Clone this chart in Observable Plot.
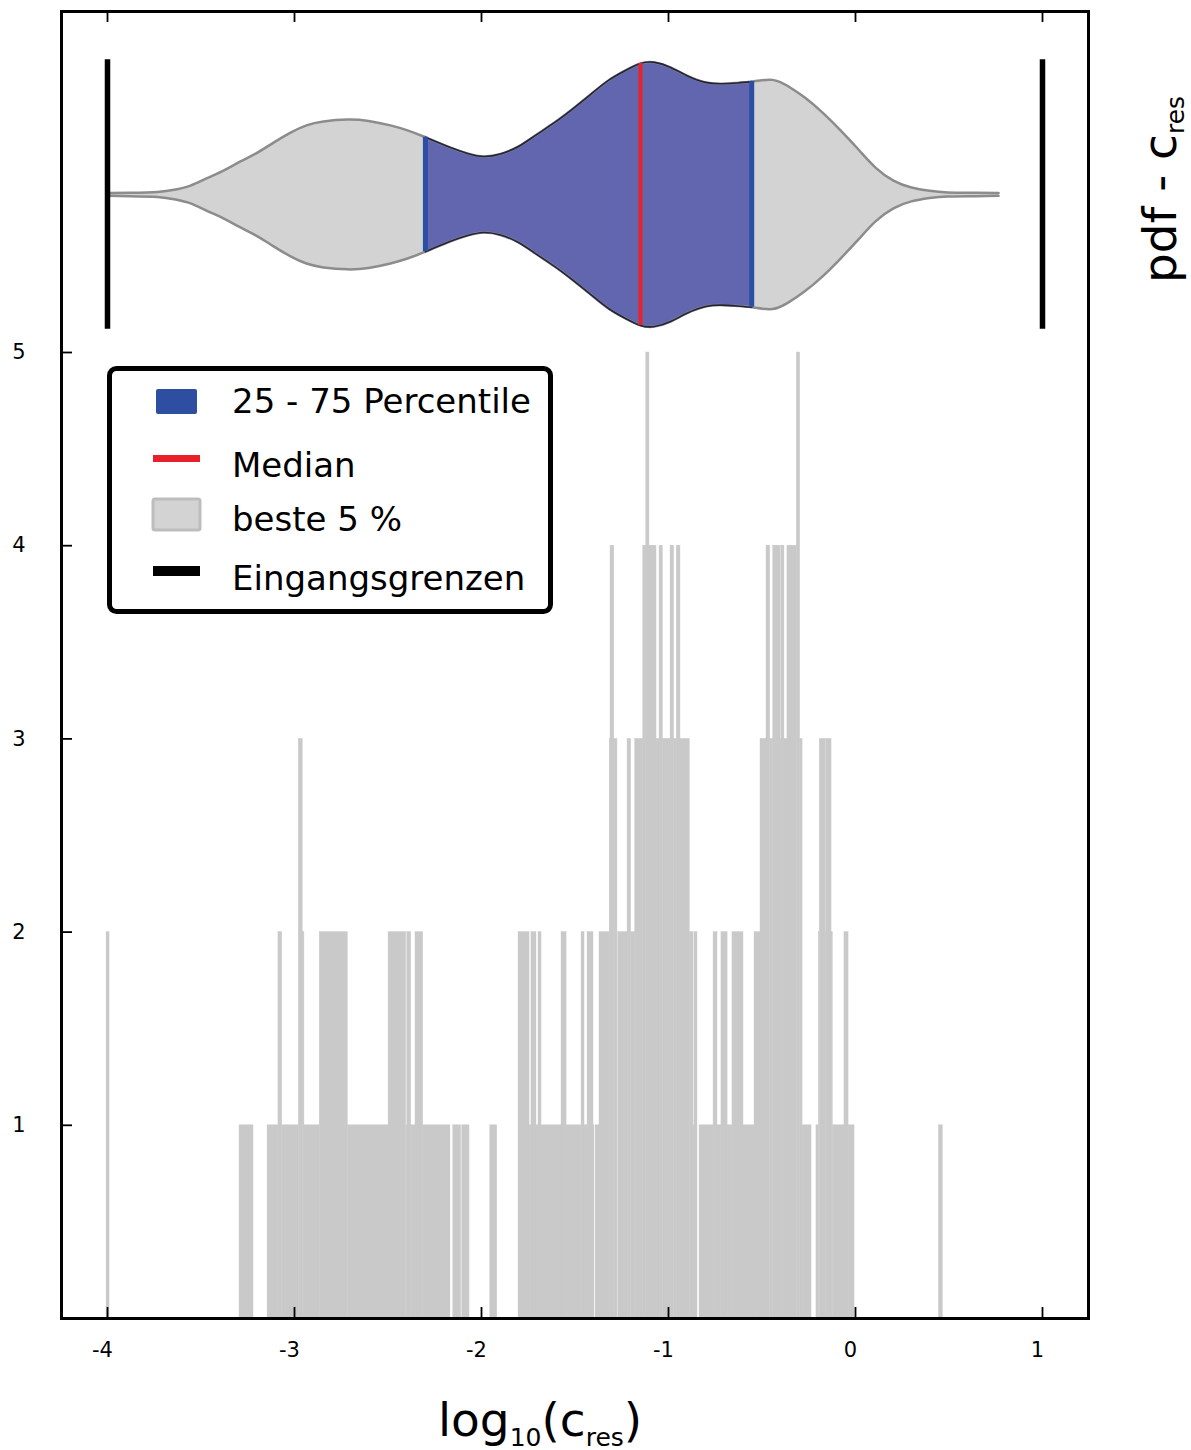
<!DOCTYPE html>
<html>
<head>
<meta charset="utf-8">
<script src="https://cdn.jsdelivr.net/npm/d3@7"></script>
<script src="https://cdn.jsdelivr.net/npm/@observablehq/plot@0.6"></script>
<style>
  html, body { margin: 0; padding: 0; background: #fff; }
  #chart { width: 1191px; height: 1450px; }
</style>
</head>
<body>
<div id="chart"></div>
<script>
// Histogram of log10(c_res): bin edges and counts
const binLo = [-4.005, -3.294, -3.144, -3.086, -3.066, -2.977, -2.956, -2.947, -2.865, -2.715,
  -2.497, -2.403, -2.397, -2.376, -2.353, -2.312, -2.151, -2.103, -1.953, -1.802,
  -1.743, -1.733, -1.706, -1.695, -1.679, -1.572, -1.545, -1.465, -1.449, -1.433,
  -1.401, -1.390, -1.369, -1.314, -1.310, -1.290, -1.269, -1.219, -1.200, -1.178,
  -1.135, -1.119, -1.102, -1.064, -1.048, -1.030, -0.989, -0.970, -0.956, -0.936,
  -0.886, -0.866, -0.861, -0.834, -0.759, -0.738, -0.717, -0.684, -0.658, -0.599,
  -0.540, -0.508, -0.476, -0.456, -0.440, -0.401, -0.397, -0.380, -0.364, -0.314,
  -0.296, -0.283, -0.209, -0.196, -0.191, -0.160, -0.157, -0.128, -0.121, -0.059,
  -0.037, 0.446];
const binHi = [-3.989, -3.219, -3.086, -3.066, -2.977, -2.956, -2.947, -2.865, -2.715, -2.497,
  -2.403, -2.397, -2.376, -2.353, -2.312, -2.166, -2.109, -2.064, -1.916, -1.743,
  -1.733, -1.706, -1.695, -1.679, -1.572, -1.545, -1.465, -1.449, -1.433, -1.401,
  -1.396, -1.369, -1.314, -1.310, -1.290, -1.273, -1.219, -1.200, -1.178, -1.135,
  -1.119, -1.102, -1.064, -1.048, -1.030, -0.989, -0.970, -0.956, -0.936, -0.886,
  -0.866, -0.861, -0.845, -0.759, -0.738, -0.717, -0.684, -0.658, -0.599, -0.540,
  -0.508, -0.476, -0.456, -0.440, -0.401, -0.397, -0.380, -0.364, -0.314, -0.296,
  -0.283, -0.235, -0.196, -0.191, -0.160, -0.157, -0.128, -0.121, -0.059, -0.037,
  -0.005, 0.467];
const binCount = [2, 1, 1, 2, 1, 3, 2, 1, 2, 1,
  2, 1, 2, 1, 2, 1, 1, 1, 1, 2,
  1, 2, 1, 2, 1, 2, 1, 2, 1, 2,
  1, 1, 2, 3, 4, 3, 2, 3, 2, 3,
  4, 5, 4, 3, 4, 3, 4, 3, 4, 3,
  2, 1, 2, 1, 2, 1, 2, 1, 2, 1,
  2, 3, 4, 3, 4, 3, 4, 3, 4, 5,
  3, 1, 1, 2, 3, 2, 3, 2, 1, 2,
  1, 1];

// Kernel density estimate (pdf) of log10(c_res)
const kdeX = [-3.995, -3.877, -3.733, -3.636, -3.556, -3.471, -3.380, -3.289, -3.198, -3.112,
  -3.021, -2.936, -2.845, -2.717, -2.604, -2.487, -2.396, -2.310, -2.166, -2.075,
  -1.989, -1.898, -1.802, -1.711, -1.610, -1.513, -1.417, -1.321, -1.230, -1.150,
  -1.075, -0.989, -0.904, -0.802, -0.711, -0.631, -0.551, -0.444, -0.358, -0.273,
  -0.176, -0.080, 0.016, 0.107, 0.203, 0.299, 0.396, 0.492, 0.642, 0.765];
const kdePdf = [0.005, 0.006, 0.009, 0.018, 0.032, 0.058, 0.086, 0.119, 0.151, 0.187,
  0.223, 0.249, 0.263, 0.270, 0.265, 0.249, 0.231, 0.209, 0.169, 0.148,
  0.137, 0.146, 0.173, 0.213, 0.259, 0.308, 0.360, 0.411, 0.447, 0.472,
  0.476, 0.458, 0.429, 0.404, 0.399, 0.402, 0.407, 0.413, 0.389, 0.350,
  0.295, 0.231, 0.162, 0.097, 0.050, 0.025, 0.013, 0.007, 0.006, 0.005];

// Summary statistics and input limits
const q25 = -2.30;
const median = -1.15;
const q75 = -0.555;
const inputBounds = [-4, 1];

// Axis ticks
const xTicks = [-4, -3, -2, -1, 0, 1];
const yTicks = [1, 2, 3, 4, 5];

// Legend entries
const legendLabels = ["25 - 75 Percentile", "Median", "beste 5 %", "Eingangsgrenzen"];

// ---- layout ----
const W = 1191, H = 1450;
const mL = 61, mR = 103, mT = 11, mB = 132;
const innerW = W - mL - mR;
const innerH = H - mT - mB;
const pxPerCount = 193.2;
const yMax = innerH / pxPerCount;
const xDomain = [-4.246, 1.246];
const violinCenter = 5.818;   // vertical position of the violin, in count units
const violinScale = 1.436;    // count units per unit of pdf
const tickLen = 11;
const violinCurve = "natural";

const bins = binLo.map((lo, i) => ({x1: lo, x2: binHi[i], count: binCount[i]}));
const kde = kdeX.map((x, i) => ({x, pdf: kdePdf[i]}));

function pdfAt(x) {
  for (let i = 0; i < kde.length - 1; i++) {
    const a = kde[i], b = kde[i + 1];
    if (x >= a.x && x <= b.x) {
      const t = (x - a.x) / (b.x - a.x);
      return a.pdf + t * (b.pdf - a.pdf);
    }
  }
  return 0;
}

const iqr = [{x: q25, pdf: pdfAt(q25)},
  ...kde.filter(d => d.x > q25 && d.x < q75),
  {x: q75, pdf: pdfAt(q75)}];

const upper = d => violinCenter + d.pdf * violinScale;
const lower = d => violinCenter - d.pdf * violinScale;
const maxPdf = d3.max(kdePdf);
const boundHalf = maxPdf * violinScale * 1.02;

const chart = Plot.plot({
  width: W,
  height: H,
  marginLeft: mL,
  marginRight: mR,
  marginTop: mT,
  marginBottom: mB,
  x: {domain: xDomain},
  y: {domain: [0, yMax]},
  style: {fontFamily: '"DejaVu Sans", sans-serif', color: "black", background: "white", overflow: "visible"},
  marks: [
    // histogram
    Plot.rectY(bins, {x1: "x1", x2: "x2", y: "count", fill: "#c9c9c9", stroke: "#c9c9c9", strokeWidth: 0.4}),

    // violin (full range)
    Plot.areaY(kde, {x: "x", y1: lower, y2: upper, fill: "#d3d3d3", curve: violinCurve}),
    // interquartile section
    Plot.areaY(iqr, {x: "x", y1: lower, y2: upper, fill: "#6166ae", curve: violinCurve}),
    Plot.line(kde, {x: "x", y: upper, stroke: "#8c8c8c", strokeWidth: 2.5, curve: violinCurve}),
    Plot.line(kde, {x: "x", y: lower, stroke: "#8c8c8c", strokeWidth: 2.5, curve: violinCurve}),
    Plot.line(iqr, {x: "x", y: upper, stroke: "#23233a", strokeWidth: 1.6, curve: violinCurve}),
    Plot.line(iqr, {x: "x", y: lower, stroke: "#23233a", strokeWidth: 1.6, curve: violinCurve}),

    // quartiles and median
    Plot.ruleX([q25, q75], {x: d => d, y1: d => violinCenter - pdfAt(d) * violinScale, y2: d => violinCenter + pdfAt(d) * violinScale, stroke: "#2c4fa3", strokeWidth: 5}),
    Plot.ruleX([median], {x: d => d, y1: d => violinCenter - pdfAt(d) * violinScale, y2: d => violinCenter + pdfAt(d) * violinScale, stroke: "#e8222a", strokeWidth: 4}),

    // input limits
    Plot.ruleX(inputBounds, {x: d => d, y1: violinCenter - boundHalf, y2: violinCenter + boundHalf, stroke: "black", strokeWidth: 5.5}),

    // inward ticks
    Plot.tickX(xTicks, {x: d => d, insetTop: innerH - tickLen, stroke: "black", strokeWidth: 1.8}),
    Plot.tickX(xTicks, {x: d => d, insetBottom: innerH - tickLen, stroke: "black", strokeWidth: 1.8}),
    Plot.tickY(yTicks, {y: d => d, insetRight: innerW - tickLen, stroke: "black", strokeWidth: 1.8}),

    // tick labels
    Plot.axisX({ticks: xTicks, anchor: "bottom", tickSize: 0, tickPadding: 24, fontSize: 21, dx: -5, tickFormat: d => String(d), label: null}),
    Plot.axisY({ticks: yTicks, anchor: "left", tickSize: 0, tickPadding: 36, fontSize: 21, tickFormat: d => String(d), label: null}),

    Plot.frame({stroke: "black", strokeWidth: 3})
  ]
});

document.getElementById("chart").appendChild(chart);

const svg = d3.select(chart);
const font = '"DejaVu Sans", sans-serif';

// legend
const lg = svg.append("g").attr("font-family", font).attr("font-size", 34)
  .attr("fill", "black").attr("text-anchor", "start");
lg.append("rect").attr("x", 109.5).attr("y", 368.5).attr("width", 441).attr("height", 243)
  .attr("rx", 7).attr("fill", "white").attr("stroke", "black").attr("stroke-width", 5);
lg.append("rect").attr("x", 156).attr("y", 389).attr("width", 41).attr("height", 25).attr("rx", 2).attr("fill", "#2e4fa1");
lg.append("rect").attr("x", 153).attr("y", 455).attr("width", 47).attr("height", 7).attr("fill", "#e8202a");
lg.append("rect").attr("x", 153).attr("y", 499).attr("width", 47).attr("height", 31).attr("rx", 2)
  .attr("fill", "#d3d3d3").attr("stroke", "#bdbdbd").attr("stroke-width", 3);
lg.append("rect").attr("x", 153).attr("y", 566).attr("width", 47).attr("height", 10).attr("fill", "black");
const baselines = [413, 477, 531, 590];
legendLabels.forEach((t, i) => {
  lg.append("text").attr("x", 232).attr("y", baselines[i]).attr("text-anchor", "start").text(t);
});

// x-axis title: log10(c_res)
const xt = svg.append("text").attr("x", 438).attr("y", 1436).attr("text-anchor", "start")
  .attr("font-family", font).attr("font-size", 47).attr("fill", "black");
xt.append("tspan").text("log");
xt.append("tspan").attr("font-size", 25).attr("dy", 10).text("10");
xt.append("tspan").attr("dy", -10).text("(c");
xt.append("tspan").attr("font-size", 25).attr("dy", 10).text("res");
xt.append("tspan").attr("dy", -10).text(")");

// right title: pdf - c_res
const rt = svg.append("text").attr("transform", "translate(1176,283) rotate(-90)").attr("text-anchor", "start")
  .attr("font-family", font).attr("font-size", 47).attr("fill", "black");
rt.append("tspan").text("pdf - c");
rt.append("tspan").attr("font-size", 25).attr("dy", 8).text("res");
</script>
</body>
</html>
